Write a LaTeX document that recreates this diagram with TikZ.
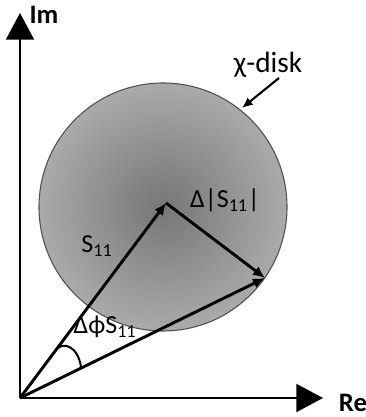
\documentclass[tikz,border=0pt]{standalone}
\usepackage{fontspec}
\setmainfont{Carlito}
\usetikzlibrary{arrows.meta,positioning}
\definecolor{diskcore}{RGB}{118,118,118}
\definecolor{diskrim}{RGB}{170,170,170}
\definecolor{diskline}{RGB}{80,80,80}
\tikzset{
  axis/.style={line width=1.5pt, -{Triangle[length=20pt,width=21pt]}},
  vec/.style={line width=2.2pt, -{Latex[length=9pt,width=8pt]}},
  disk/.style={draw=diskline, line width=0.8pt, shading=radial, inner color=diskcore, outer color=diskrim},
  lbl/.style={font=\fontsize{19.5}{22}\selectfont},
  axlbl/.style={font=\bfseries\fontsize{20}{22}\selectfont},
  pointer/.style={line width=1.6pt, -{Latex[length=8pt,width=7pt]}}
}

\begin{document}
\begin{tikzpicture}[x=0.75pt,y=0.75pt]
  \useasboundingbox (-20,-19) rectangle (346,398);

  % Disk
  \coordinate (dc) at (143,191);
  \draw[disk] (dc) circle (124);

  % Axes
  \coordinate (O) at (0,0);
  \coordinate (imend) at (0,385);
  \coordinate (reend) at (303,0);
  \draw[axis] (O) -- (imend);
  \draw[axis] (O) -- (reend);
  \node[axlbl] (im) at (24,383) {Im};
  \node[axlbl] (re) at (333,-5) {Re};

  % Vectors
  \coordinate (c) at (146,195);
  \coordinate (p) at (245,120);
  \draw[vec] (O) -- (c);
  \draw[vec] (c) -- (p);
  \draw[vec] (O) -- (p);

  % Angle
  \draw[line width=1.5pt] (36,48) .. controls (43,57) and (58,52) .. (61,31);

  % Labels
  \node[lbl] (s) at (77,152) {S\textsubscript{11}};
  \node[lbl] (ds) at (205,198) {Δ|S\textsubscript{11}|};
  \node[lbl] (dphi) at (85,71) {ΔϕS\textsubscript{11}};
  \node[lbl, font=\fontsize{22}{24}\selectfont] (chi) at (248,333) {χ-disk};
  \coordinate (chifrom) at (259,320);
  \coordinate (chito) at (222,290);
  \draw[pointer] (chifrom) -- (chito);
\end{tikzpicture}
\end{document}
